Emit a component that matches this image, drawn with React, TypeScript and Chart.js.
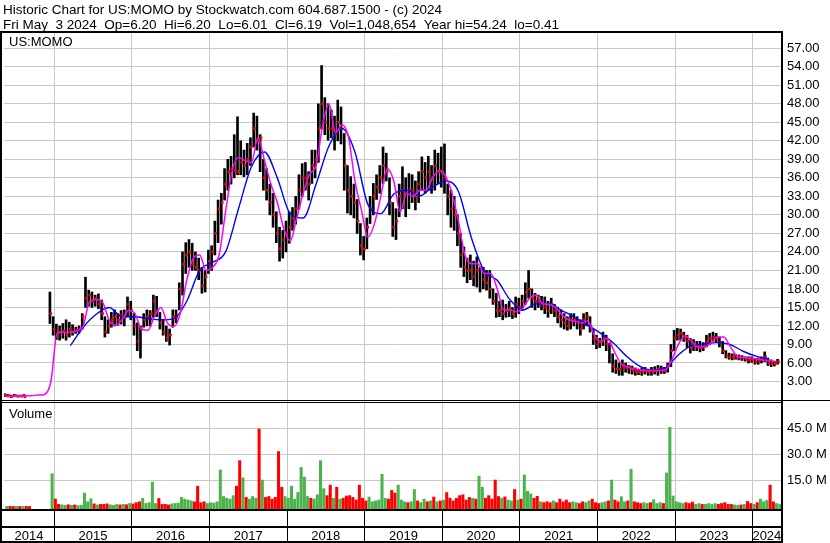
import React, { useEffect, useRef } from "react";
import { Chart, registerables } from "chart.js";

Chart.register(...registerables);

// ---------- text ----------
const titleText = "Historic Chart for US:MOMO by Stockwatch.com 604.687.1500 - (c) 2024";
const quoteText = "Fri May  3 2024  Op=6.20  Hi=6.20  Lo=6.01  Cl=6.19  Vol=1,048,654  Year hi=54.24  lo=0.41";
const symbolLabel = "US:MOMO";
const volumeLabel = "Volume";

// ---------- axes ----------
const years = [2014, 2015, 2016, 2017, 2018, 2019, 2020, 2021, 2022, 2023, 2024];
const priceTicks = [3, 6, 9, 12, 15, 18, 21, 24, 27, 30, 33, 36, 39, 42, 45, 48, 51, 54, 57];
const volumeTicks = [15, 30, 45]; // millions
const firstPeriod = 2014.375; // time of bar 0 (years); one bar per half month
const periodsPerYear = 24;
const xMin = 2014.354;
const xMax = 2024.364;
const priceMin = 0;
const priceMax = 59.64;
const volMin = -1.14;
const volMax = 61.18;

// ---------- price (half-monthly low / high / close) ----------
const lows = [
  0.6, 0.5, 0.4, 0.6, 0.5, 0.6, 0.6, null,
  null, null, null, null, null, null, 12.4, 10.5,
  9.8, 9.7, 10.0, 9.7, 10.2, 10.5, 10.8, 10.8,
  11.5, 15.0, 15.2, 15.0, 15.2, 14.8, 13.0, 10.2,
  10.8, 11.8, 12.0, 12.1, 12.3, 12.0, 13.5, 13.0,
  10.5, 8.0, 6.8, 11.8, 12.0, 12.0, 13.4, 13.5,
  11.5, 10.5, 9.5, 8.9, 11.8, 12.5, 14.6, 17.0,
  20.5, 21.5, 21.0, 21.0, 19.5, 17.3, 17.5, 20.5,
  21.0, 23.5, 25.5, 28.5, 32.4, 34.0, 35.0, 36.0,
  36.5, 36.5, 36.2, 36.5, 38.0, 41.0, 40.5, 37.0,
  34.0, 32.4, 30.0, 28.0, 25.5, 22.5, 23.0, 24.0,
  25.4, 27.5, 28.5, 31.0, 33.0, 34.0, 32.4, 35.1,
  36.0, 38.5, 44.0, 43.0, 42.1, 42.5, 40.5, 42.0,
  41.5, 34.0, 30.3, 30.0, 29.5, 27.0, 23.5, 22.7,
  24.5, 28.6, 30.0, 32.5, 33.5, 35.1, 35.5, 30.0,
  26.5, 26.0, 29.7, 31.0, 29.7, 31.0, 32.0, 30.8,
  32.0, 34.0, 33.5, 34.0, 33.5, 34.0, 35.0, 34.5,
  33.5, 30.0, 28.0, 27.5, 25.0, 21.5, 20.0, 19.0,
  19.5, 18.5, 18.3, 17.5, 18.0, 17.8, 16.5, 15.5,
  13.4, 13.5, 13.0, 13.4, 13.5, 13.2, 13.4, 14.0,
  14.5, 15.5, 16.5, 15.0, 14.6, 15.0, 14.6, 14.0,
  13.4, 14.0, 13.5, 12.5, 11.8, 11.5, 11.3, 11.5,
  12.0, 11.5, 10.5, 11.5, 12.0, 11.0, 9.0, 8.3,
  8.5, 8.8, 8.0, 6.0, 4.5, 4.3, 4.0, 4.0,
  4.5, 4.3, 4.2, 4.0, 4.1, 4.0, 4.2, 4.0,
  4.0, 4.2, 4.0, 4.3, 4.3, 4.5, 5.4, 8.0,
  9.7, 9.7, 9.5, 8.5, 7.6, 8.0, 8.0, 7.8,
  8.0, 8.6, 9.0, 9.5, 9.3, 8.6, 7.5, 6.8,
  6.6, 6.5, 6.6, 6.5, 6.4, 6.3, 6.0, 6.1,
  5.8, 5.8, 6.0, 6.2, 5.6, 5.4, 5.5, 5.8,
];
const highs = [
  1.0, 0.9, 0.8, 0.9, 0.8, 0.8, 0.9, null,
  null, null, null, null, null, null, 17.5, 13.5,
  12.3, 12.0, 12.4, 13.0, 12.6, 12.2, 11.8, 12.0,
  14.0, 19.9, 17.8, 17.5, 17.0, 17.2, 16.2, 13.5,
  13.0, 14.2, 14.6, 14.0, 14.5, 14.6, 16.7, 16.0,
  14.0, 12.5, 12.0, 14.0, 14.6, 14.5, 17.0, 16.8,
  14.2, 13.0, 12.0, 11.5, 14.6, 14.6, 19.0, 24.0,
  25.5, 26.0, 25.4, 24.0, 23.0, 21.5, 21.0, 24.3,
  25.0, 29.0, 32.4, 33.5, 37.5, 39.0, 39.5, 43.0,
  45.9, 42.0, 40.5, 41.6, 42.5, 46.5, 46.0, 43.0,
  39.0, 37.5, 35.0, 33.5, 30.5, 28.0, 27.5, 29.0,
  30.5, 31.2, 33.0, 36.5, 38.3, 38.5, 37.0, 40.5,
  40.5, 48.0, 54.2, 49.0, 48.0, 47.0, 46.0, 48.6,
  47.5, 43.2, 38.0, 36.2, 35.0, 32.5, 28.6, 26.5,
  29.5, 33.0, 35.1, 36.5, 38.0, 41.0, 40.0, 36.0,
  32.0, 31.0, 35.0, 37.8, 36.0, 36.7, 36.5, 35.5,
  37.0, 39.4, 38.5, 39.5, 38.0, 40.5, 40.0, 41.0,
  41.5, 35.0, 34.0, 33.0, 30.0, 27.0, 24.8, 23.0,
  23.5, 22.5, 23.2, 21.5, 21.5, 21.0, 21.0, 18.0,
  17.3, 16.0, 16.2, 15.5, 16.0, 15.0, 16.7, 16.5,
  17.0, 19.0, 21.0, 18.0, 17.3, 17.0, 16.8, 16.7,
  16.0, 16.5, 15.5, 15.0, 14.6, 14.0, 13.5, 14.0,
  14.0, 13.5, 13.0, 14.0, 14.2, 13.5, 11.5, 10.5,
  10.0, 11.0, 10.5, 9.2, 7.5, 6.5, 6.0, 6.5,
  6.0, 5.6, 5.5, 5.2, 5.0, 5.2, 5.3, 5.0,
  5.3, 5.4, 5.6, 5.5, 5.3, 6.0, 9.0, 11.3,
  11.6, 11.5, 11.0, 10.5, 10.0, 9.8, 9.5, 9.5,
  9.3, 10.5, 10.8, 11.0, 10.8, 10.2, 9.5, 8.0,
  7.6, 7.5, 7.4, 7.3, 7.2, 7.0, 7.0, 7.0,
  6.7, 6.8, 7.0, 7.8, 6.8, 6.5, 6.3, 6.6,
];
const closes = [
  0.8, 0.7, 0.6, 0.7, 0.6, 0.6, 0.5, null,
  null, null, null, null, null, null, 14.0, 11.5,
  10.5, 11.0, 11.2, 10.5, 11.5, 11.0, 11.3, 11.5,
  13.5, 16.5, 17.0, 16.0, 16.5, 15.5, 14.0, 11.0,
  12.0, 13.0, 13.5, 13.0, 13.8, 13.5, 15.5, 14.5,
  12.0, 9.5, 11.5, 13.0, 13.5, 14.0, 16.0, 14.5,
  12.5, 11.0, 10.0, 10.5, 13.5, 13.5, 18.0, 22.0,
  23.5, 24.0, 22.0, 21.5, 21.0, 18.5, 20.0, 22.5,
  24.0, 27.0, 31.0, 32.0, 35.0, 37.0, 37.5, 37.2,
  37.0, 38.5, 38.0, 39.0, 41.0, 44.0, 42.0, 42.5,
  36.0, 34.0, 32.0, 30.0, 27.0, 24.5, 26.0, 27.0,
  28.0, 29.5, 31.0, 34.0, 36.0, 36.0, 35.0, 38.0,
  39.0, 44.0, 48.0, 45.0, 44.0, 44.0, 43.0, 45.0,
  44.0, 38.0, 34.0, 33.0, 32.0, 29.0, 25.0, 24.5,
  28.0, 31.0, 33.0, 34.5, 36.0, 38.0, 37.0, 32.0,
  28.0, 29.0, 33.0, 34.0, 33.5, 34.0, 34.0, 33.0,
  35.0, 37.0, 36.0, 37.0, 36.0, 38.0, 37.0, 37.0,
  36.0, 33.0, 31.0, 30.0, 27.0, 23.5, 21.5, 21.0,
  21.0, 20.0, 21.0, 21.5, 19.5, 19.0, 18.0, 16.0,
  14.5, 14.5, 14.0, 14.5, 14.8, 14.0, 15.5, 15.0,
  16.0, 17.5, 18.0, 16.5, 16.0, 16.0, 15.5, 15.0,
  14.5, 15.5, 14.5, 13.5, 13.0, 12.5, 12.0, 13.0,
  13.0, 12.5, 11.5, 13.0, 13.5, 12.0, 10.0, 9.0,
  9.5, 10.0, 9.0, 9.1, 5.5, 5.0, 5.0, 5.5,
  5.2, 5.3, 4.8, 4.6, 4.5, 4.6, 4.8, 4.5,
  4.7, 4.8, 5.0, 4.8, 4.8, 5.5, 8.0, 10.0,
  10.5, 10.8, 10.0, 9.5, 8.5, 8.8, 8.8, 8.5,
  8.7, 9.5, 10.0, 10.2, 10.0, 9.3, 8.0, 7.2,
  7.0, 7.0, 7.0, 6.8, 6.8, 6.7, 6.5, 6.5,
  6.2, 6.4, 6.6, 7.0, 6.0, 5.8, 5.9, 6.2,
];

// short moving average (magenta), one value every 2 bars from bar 0
const maFastStep = 2;
const maFast = [
  0.6, 0.6, 0.6, 0.7, 0.7, 0.8, 0.9, 3.0, 11.0, 11.0,
  11.0, 11.2, 12.0, 16.0, 16.3, 15.8, 13.0, 12.1, 13.0, 14.5,
  14.0, 11.5, 11.3, 13.5, 15.0, 12.5, 11.9, 14.0, 19.4, 22.9,
  23.5, 21.0, 21.5, 23.5, 30.5, 37.0, 39.3, 38.8, 38.5, 42.5,
  38.9, 35.0, 32.0, 27.8, 25.8, 29.5, 33.5, 36.6, 38.0, 44.5,
  48.0, 43.3, 44.6, 42.6, 35.5, 30.8, 26.4, 28.5, 33.0, 37.5,
  35.5, 30.5, 33.5, 33.0, 34.0, 34.0, 36.0, 37.2, 36.3, 33.5,
  29.0, 23.5, 22.1, 22.1, 20.5, 20.5, 18.0, 14.6, 14.6, 14.3,
  15.0, 16.5, 17.0, 15.6, 15.5, 15.0, 13.8, 13.0, 12.8, 12.5,
  12.8, 10.5, 9.4, 10.0, 8.1, 6.1, 5.4, 5.1, 4.9, 4.8,
  4.8, 4.8, 4.9, 6.5, 9.0, 10.4, 9.6, 8.6, 8.6, 9.2,
  10.2, 10.2, 8.7, 7.2, 6.9, 6.8, 6.7, 6.5, 6.4, 6.2,
];

// long moving average (blue), one value every 4 bars from bar 20
const maSlowStart = 20;
const maSlowStep = 4;
const maSlow = [
  8.8, 11.8, 13.9, 15.0, 13.5, 13.5, 13.2, 13.0, 13.2, 16.0,
  21.0, 22.3, 24.0, 31.0, 37.8, 40.2, 36.0, 30.2, 29.5, 35.0,
  41.2, 44.0, 40.2, 31.7, 30.2, 33.4, 34.0, 33.1, 34.5, 35.5,
  33.8, 26.3, 20.9, 19.4, 16.2, 14.6, 15.6, 15.6, 14.5, 13.4,
  12.1, 10.8, 9.2, 7.1, 5.5, 4.8, 5.2, 7.3, 8.8, 9.1,
  9.3, 9.0, 7.9, 7.1, 6.6,
];

// volume, millions of shares per bar
const volumes = [
  0.4, 0.4, 0.3, 0.4, 0.3, 0.4, 0.4, 0.3,
  null, null, null, null, null, null, 19.0, 4.5,
  1.5, 1.2, 1.0, 1.3, 1.0, 1.2, 0.8, 1.0,
  8.0, 3.0, 4.7, 1.8, 1.2, 1.5, 1.5, 1.8,
  1.2, 1.0, 1.5, 1.2, 1.5, 1.3, 2.0, 1.8,
  2.5, 3.0, 4.9, 2.0, 2.5, 14.2, 2.0, 4.9,
  1.5, 1.5, 1.2, 1.8, 2.0, 2.2, 5.5, 4.5,
  4.0, 3.5, 3.0, 11.9, 2.5, 3.0, 2.0, 2.5,
  2.2, 3.0, 21.2, 6.0, 5.0, 4.5, 6.5, 11.9,
  26.5, 16.7, 5.5, 4.5, 6.0, 5.0, 44.6, 15.4,
  5.5, 6.0, 4.5, 5.5, 31.7, 11.3, 6.0, 5.0,
  11.9, 4.5, 8.3, 22.6, 17.1, 6.0, 5.0, 4.5,
  7.0, 26.5, 10.5, 6.5, 12.5, 5.0, 11.3, 4.5,
  5.0, 6.3, 6.5, 5.5, 4.0, 12.5, 5.0, 3.5,
  5.7, 3.0, 3.5, 4.0, 18.7, 5.0, 4.5, 9.5,
  8.0, 12.5, 4.0, 3.0, 2.5, 3.0, 10.0, 3.5,
  2.5, 4.5, 3.0, 3.5, 5.7, 3.0, 3.5, 4.0,
  8.3, 5.0, 3.5, 5.0, 6.5, 7.0, 4.0, 5.5,
  5.0, 4.5, 17.7, 11.3, 5.0, 6.5, 4.5, 15.4,
  6.0, 5.0, 5.8, 4.0, 3.5, 10.0, 4.0, 4.5,
  18.3, 9.0, 7.5, 5.0, 6.1, 3.0, 2.5, 3.0,
  2.5, 3.5, 2.5, 4.5, 3.0, 4.0, 2.5, 3.0,
  2.5, 2.0, 3.0, 2.5, 3.5, 4.5, 2.5, 2.0,
  2.5, 3.0, 3.5, 15.4, 4.0, 3.0, 5.9, 3.0,
  3.5, 21.6, 3.0, 2.5, 2.0, 2.5, 2.0, 2.5,
  4.2, 2.0, 2.5, 2.0, 19.5, 45.6, 6.3, 3.0,
  2.5, 2.0, 2.5, 2.0, 2.8, 1.5, 2.0, 1.5,
  1.5, 2.0, 1.5, 2.0, 1.5, 2.0, 2.5, 1.5,
  1.5, 1.2, 1.0, 1.2, 1.5, 3.2, 2.0, 1.5,
  2.5, 4.5, 3.0, 3.8, 12.5, 3.0, 2.0, 1.5,
];

// ---------- styles ----------
const FONT = '"Liberation Sans", Arial, Helvetica, sans-serif';
const GRID = "#c8c8c8";
const UP = "#4cb34c";
const DOWN = "#ff0000";

const periodTime = (i: number) => firstPeriod + i / periodsPerYear;

function buildData() {
  const bars: any[] = [];
  const closePts: any[] = [];
  lows.forEach((lo, i) => {
    const hi = highs[i];
    if (lo == null || hi == null) return;
    bars.push({ x: periodTime(i), y: [lo, hi] });
    if (closes[i] != null) closePts.push({ x: periodTime(i), y: closes[i] });
  });
  const volPts: any[] = [];
  const volColors: string[] = [];
  volumes.forEach((v, i) => {
    if (v == null) return;
    volPts.push({ x: periodTime(i), y: v });
    const c = closes[i];
    const p = i > 0 ? closes[i - 1] : null;
    let up: boolean;
    if (c == null) up = false;
    else if (p == null) up = true;
    else up = c >= p;
    volColors.push(up ? UP : DOWN);
  });
  const fast = maFast.map((v, k) => ({ x: periodTime(k * maFastStep), y: v }));
  const slow = maSlow.map((v, k) => ({ x: periodTime(maSlowStart + k * maSlowStep), y: v }));
  return { bars, closePts, volPts, volColors, fast, slow };
}

const framePlugin = {
  id: "stockwatchFrame",
  afterDraw(chart: any) {
    const { ctx, chartArea: ca } = chart;
    const xs = chart.scales.x;
    const ys = chart.scales.y;
    const yv = chart.scales.yv;
    const R = Math.round(ca.right);
    const B = Math.round(ca.bottom);
    ctx.save();
    ctx.fillStyle = "#000";
    ctx.textAlign = "left";
    ctx.textBaseline = "alphabetic";
    ctx.font = `13.5px ${FONT}`;
    ctx.fillText(titleText, 3, 13.5);
    ctx.fillText(quoteText, 3, 28.5);
    ctx.font = `13px ${FONT}`;
    ctx.fillText(symbolLabel, 9, ys.top + 14);
    ctx.fillText(volumeLabel, 9, yv.top + 17.5);

    // frame
    ctx.fillRect(0, 31, R + 2, 2);
    ctx.fillRect(0, 31, 2, 512);
    ctx.fillRect(R, 31, 2, 512);
    const pb = Math.round(ys.bottom);
    ctx.fillRect(0, pb, 830, 1);
    ctx.fillRect(0, pb + 2, R, 1);
    ctx.fillRect(0, B, R, 2);
    ctx.fillRect(0, 526, R, 2);
    ctx.fillRect(0, 541, R + 2, 2);

    // year separators and labels
    ctx.textAlign = "center";
    ctx.font = `13px ${FONT}`;
    years.forEach((yr) => {
      const p = xs.getPixelForValue(yr);
      if (p > ca.left + 1 && p < ca.right - 1) {
        ctx.fillRect(Math.round(p - 0.5), B, 1, 541 - B);
      }
      const l = Math.max(ca.left, p);
      const r = Math.min(ca.right, xs.getPixelForValue(yr + 1));
      if (r > l) ctx.fillText(String(yr), (l + r) / 2, 540);
    });
    ctx.restore();
  },
};

export default function App() {
  const ref = useRef<HTMLCanvasElement | null>(null);
  useEffect(() => {
    const canvas = ref.current;
    if (!canvas) return;
    Chart.defaults.font.family = FONT;
    Chart.defaults.color = "#000";
    const d = buildData();
    const chart = new Chart(canvas, {
      type: "bar",
      data: {
        datasets: [
          {
            type: "line",
            label: "MA short",
            data: d.fast,
            xAxisID: "x",
            yAxisID: "y",
            borderColor: "#ff00ff",
            borderWidth: 1.5,
            pointRadius: 0,
            cubicInterpolationMode: "monotone",
            fill: false,
          },
          {
            type: "line",
            label: "MA long",
            data: d.slow,
            xAxisID: "x",
            yAxisID: "y",
            borderColor: "#0000ff",
            borderWidth: 1.4,
            pointRadius: 0,
            cubicInterpolationMode: "monotone",
            fill: false,
          },
          {
            type: "line",
            label: "Close",
            data: d.closePts,
            xAxisID: "x",
            yAxisID: "y",
            showLine: false,
            pointStyle: "rect",
            pointRadius: 1.8,
            pointBorderWidth: 0,
            pointBackgroundColor: DOWN,
            borderColor: DOWN,
          },
          {
            type: "bar",
            label: "Range",
            data: d.bars,
            xAxisID: "x",
            yAxisID: "y",
            backgroundColor: "#000",
            barThickness: 2,
          },
          {
            type: "bar",
            label: "Volume",
            data: d.volPts,
            xAxisID: "x",
            yAxisID: "yv",
            backgroundColor: d.volColors,
            barThickness: 2.4,
            base: volMin,
          } as any,
        ],
      },
      options: {
        responsive: false,
        maintainAspectRatio: false,
        animation: false,
        devicePixelRatio: 1,
        layout: { padding: { top: 32, left: 2, right: 0, bottom: 0 } },
        plugins: { legend: { display: false }, tooltip: { enabled: false } },
        scales: {
          x: {
            type: "linear",
            position: "bottom",
            min: xMin,
            max: xMax,
            offset: false,
            grid: { color: GRID, lineWidth: 1, drawTicks: false, offset: false },
            border: { display: false },
            ticks: { display: false },
            afterBuildTicks: (s: any) => {
              s.ticks = years.slice(1).map((v) => ({ value: v }));
            },
            afterFit: (s: any) => {
              s.height = 34;
            },
          },
          y: {
            type: "linear",
            position: "right",
            stack: "panels",
            stackWeight: 368,
            min: priceMin,
            max: priceMax,
            grid: { color: GRID, lineWidth: 1, drawTicks: false },
            border: { display: false },
            ticks: {
              autoSkip: false,
              padding: 6,
              color: "#000",
              font: { size: 13, family: FONT },
              callback: (v: any) => Number(v).toFixed(2),
            },
            afterBuildTicks: (s: any) => {
              s.ticks = priceTicks.map((v) => ({ value: v }));
            },
            afterFit: (s: any) => {
              s.width = 49;
            },
          },
          yv: {
            type: "linear",
            position: "right",
            stack: "panels",
            stackWeight: 109,
            min: volMin,
            max: volMax,
            grid: { color: GRID, lineWidth: 1, drawTicks: false },
            border: { display: false },
            ticks: {
              autoSkip: false,
              padding: 6,
              color: "#000",
              font: { size: 13, family: FONT },
              callback: (v: any) => `${Number(v).toFixed(1)} M`,
            },
            afterBuildTicks: (s: any) => {
              s.ticks = volumeTicks.map((v) => ({ value: v }));
            },
            afterFit: (s: any) => {
              s.width = 49;
            },
          },
        },
      } as any,
      plugins: [framePlugin],
    });
    return () => chart.destroy();
  }, []);

  return (
    <div style={{ position: "absolute", left: 0, top: 0, width: 830, height: 543, background: "#fff" }}>
      <canvas ref={ref} width={830} height={543} style={{ display: "block", width: 830, height: 543 }} />
    </div>
  );
}
